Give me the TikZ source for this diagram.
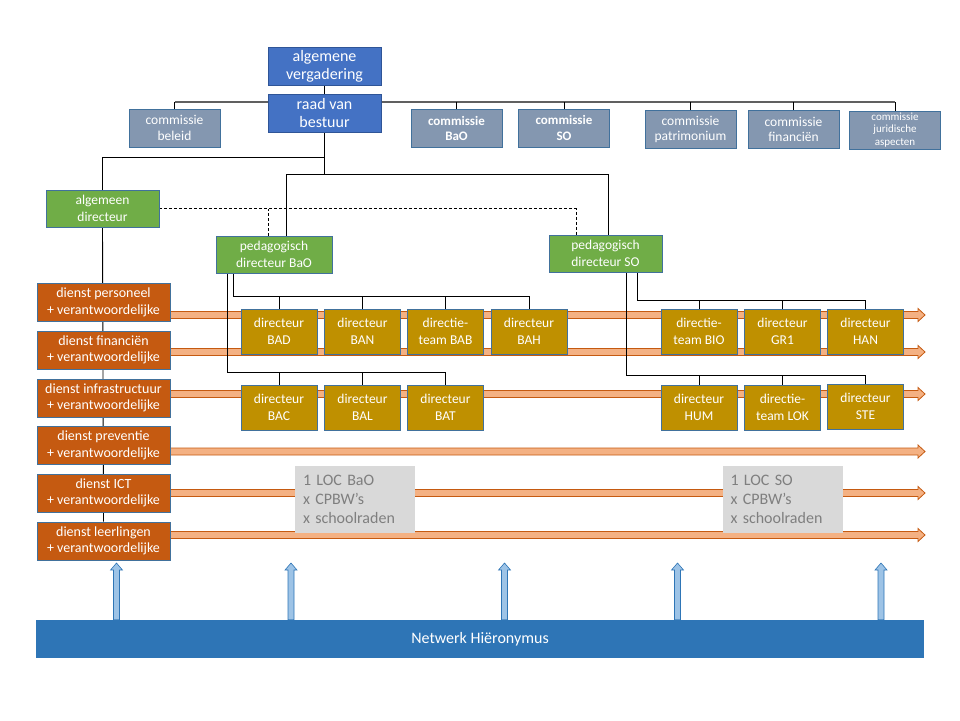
\documentclass[tikz,border=0pt]{standalone}
\usepackage{fontspec}
\setmainfont{Carlito}

\definecolor{bestuur}{HTML}{4472C4}
\definecolor{bestuurrand}{HTML}{2F5597}
\definecolor{comm}{HTML}{8497B0}
\definecolor{rand}{HTML}{41719C}
\definecolor{groen}{HTML}{70AD47}
\definecolor{oranje}{HTML}{C55A11}
\definecolor{bandoranje}{HTML}{F4B183}
\definecolor{oker}{HTML}{BF9000}
\definecolor{lichtgrijs}{HTML}{D9D9D9}
\definecolor{tekstgrijs}{HTML}{7F7F7F}
\definecolor{netblauw}{HTML}{2E75B6}
\definecolor{pijlblauw}{HTML}{9DC3E6}

\pgfdeclarelayer{bands}
\pgfdeclarelayer{wires}
\pgfsetlayers{bands,wires,main}

\begin{document}
\begin{tikzpicture}[x=1pt,y=-1pt]
   \tikzstyle{every node}=[inner sep=0pt, align=center, text=white, draw=rand, line width=0.8pt]
   \tikzstyle{bestuur}=[fill=bestuur, draw=bestuurrand, minimum width=113pt, minimum height=38pt, font=\fontsize{16}{18}\selectfont]
   \tikzstyle{commissie}=[fill=comm, minimum width=91pt, minimum height=38pt, font=\fontsize{13.5}{15.5}\selectfont]
   \tikzstyle{vet}=[font=\fontsize{13}{15.5}\selectfont\bfseries]
   \tikzstyle{directie}=[fill=groen, minimum width=113pt, minimum height=37pt, font=\fontsize{13.5}{17}\selectfont]
   \tikzstyle{dienst}=[fill=oranje, minimum width=133pt, minimum height=38pt, font=\fontsize{14}{16.5}\selectfont]
   \tikzstyle{school}=[fill=oker, minimum width=76pt, minimum height=45pt, font=\fontsize{13.5}{17}\selectfont]
   \tikzstyle{loc}=[fill=lichtgrijs, draw=none, text=tekstgrijs, minimum width=120pt, minimum height=67pt, text width=104pt, align=left, font=\fontsize{16}{19}\selectfont]
   \tikzstyle{netwerk}=[fill=netblauw, draw=none, minimum width=888pt, minimum height=38pt, font=\fontsize{16}{18}\selectfont]
   \tikzstyle{lijn}=[draw=black, line width=0.9pt]
   \tikzstyle{buslijn}=[draw=gray!75!black, line width=1.3pt]
   \tikzstyle{band}=[fill=bandoranje, draw=oranje, line width=0.8pt]
   \tikzstyle{pijl}=[fill=pijlblauw, draw=netblauw, line width=0.6pt]

   \useasboundingbox (0,0) rectangle (960,720);

\node[bestuur] (av) at (324.5,66.5) {algemene\\vergadering};
\node[bestuur] (rvb) at (324.5,113) {raad van\\bestuur};

\node[commissie] (cbel) at (174.5,128) {commissie\\beleid};
\node[commissie, vet] (cbao) at (456.5,128.5) {commissie\\BaO};
\node[commissie, vet] (cso) at (564,128) {commissie\\SO};
\node[commissie] (cpat) at (690.5,129.5) {commissie\\patrimonium};
\node[commissie] (cfin) at (793.5,129.5) {commissie\\financiën};
\node[commissie, font=\fontsize{11}{12.5}\selectfont] (cjur) at (895,130) {commissie\\juridische\\aspecten};

\node[directie] (ad) at (102.5,208.5) {algemeen\\directeur};
\node[directie, minimum width=116pt] (pdbao) at (274,254.5) {pedagogisch\\directeur BaO};
\node[directie] (pdso) at (605.5,253.5) {pedagogisch\\directeur SO};

\node[dienst] (dpers) at (103.5,302.5) {dienst personeel\\+ verantwoordelijke};
\node[dienst] (dfin) at (103.5,350) {dienst financiën\\+ verantwoordelijke};
\node[dienst] (dinfra) at (103.5,398) {dienst infrastructuur\\+ verantwoordelijke};
\node[dienst] (dprev) at (103.5,445.5) {dienst preventie\\+ verantwoordelijke};
\node[dienst] (dict) at (103.5,493) {dienst ICT\\+ verantwoordelijke};
\node[dienst] (dll) at (103.5,541) {dienst leerlingen\\+ verantwoordelijke};

\node[school] (bad) at (279,331.5) {directeur\\BAD};
\node[school] (ban) at (362.5,331.5) {directeur\\BAN};
\node[school] (bab) at (445.5,331.5) {directie-\\team BAB};
\node[school] (bah) at (529,331.5) {directeur\\BAH};
\node[school] (bio) at (699,331.5) {directie-\\team BIO};
\node[school] (gr1) at (782.5,331.5) {directeur\\GR1};
\node[school] (han) at (865.5,331.5) {directeur\\HAN};

\node[school] (bac) at (279,407.5) {directeur\\BAC};
\node[school] (bal) at (362.5,407.5) {directeur\\BAL};
\node[school] (bat) at (445.5,407.5) {directeur\\BAT};
\node[school] (hum) at (699,407.5) {directeur\\HUM};
\node[school] (lok) at (782.5,407.5) {directie-\\team LOK};
\node[school] (ste) at (865.5,406.5) {directeur\\STE};

\node[loc] (locbao) at (355,499.5) {1 LOC BaO\\x CPBW’s\\x schoolraden};
\node[loc] (locso) at (782.5,499.5) {1 LOC SO\\x CPBW’s\\x schoolraden};

\node[netwerk] (net) at (480,639) {Netwerk Hiëronymus};

\coordinate (cbus) at (0,102);
\coordinate (bandeind) at (925,0);

\begin{pgfonlayer}{bands}
   \foreach \d/\y in {dpers/315,dfin/352,dinfra/394,dprev/451.5,dict/493,dll/535}
      \draw[band] (\d.east |- 0,\y-3.5) -- (918,\y-3.5) -- (918,\y-6.5) -- (bandeind |- 0,\y)
         -- (918,\y+6.5) -- (918,\y+3.5) -- (\d.east |- 0,\y+3.5) -- cycle;
   \foreach \x in {116.5,291,504.5,677.5,881}
      \draw[pijl] (\x-3,0 |- net.north) -- (\x-3,570) -- (\x-6,570) -- (\x,563)
         -- (\x+6,570) -- (\x+3,570) -- (\x+3,0 |- net.north) -- cycle;
\end{pgfonlayer}

\begin{pgfonlayer}{wires}
   \draw[lijn] (av) -- (rvb);
   \draw[buslijn] (cbel.north |- cbus) -- (cjur.north |- cbus);
   \foreach \c in {cbel,cbao,cso,cpat,cfin,cjur}
      \draw[lijn] (\c.north) -- (\c.north |- cbus);
   \draw[lijn] (rvb.south) -- ++(0,25) -| (ad.north);
   \draw[lijn] (rvb.south) -- ++(0,42) coordinate (split);
   \draw[lijn] ([xshift=12pt]pdbao.north) |- (split) -| ([xshift=2.5pt]pdso.north);
   \draw[lijn, dash pattern=on 3pt off 2pt] (ad.east) -| ([xshift=-29.5pt]pdso.north);
   \draw[lijn, dash pattern=on 3pt off 2pt] ([xshift=-6pt]pdbao.north) -- ([xshift=-6pt]pdbao.north |- ad.east);
   \draw[lijn] (ad.south) -- (dll.north);
   \draw[lijn] ([xshift=-41pt]pdbao.south) |- (bah.north |- 0,296);
   \draw[lijn] ([xshift=-47pt]pdbao.south) |- (bat.north |- 0,372);
   \draw[lijn] ([xshift=31.5pt]pdso.south) |- (han.north |- 0,300);
   \draw[lijn] ([xshift=20.5pt]pdso.south) |- (ste.north |- 0,375);
   \foreach \s in {bad,ban,bab,bah}
      \draw[lijn] (\s.north) -- (\s.north |- 0,296);
   \foreach \s in {bac,bal,bat}
      \draw[lijn] (\s.north) -- (\s.north |- 0,372);
   \foreach \s in {bio,gr1,han}
      \draw[lijn] (\s.north) -- (\s.north |- 0,300);
   \foreach \s in {hum,lok,ste}
      \draw[lijn] (\s.north) -- (\s.north |- 0,375);
\end{pgfonlayer}

\end{tikzpicture}
\end{document}
